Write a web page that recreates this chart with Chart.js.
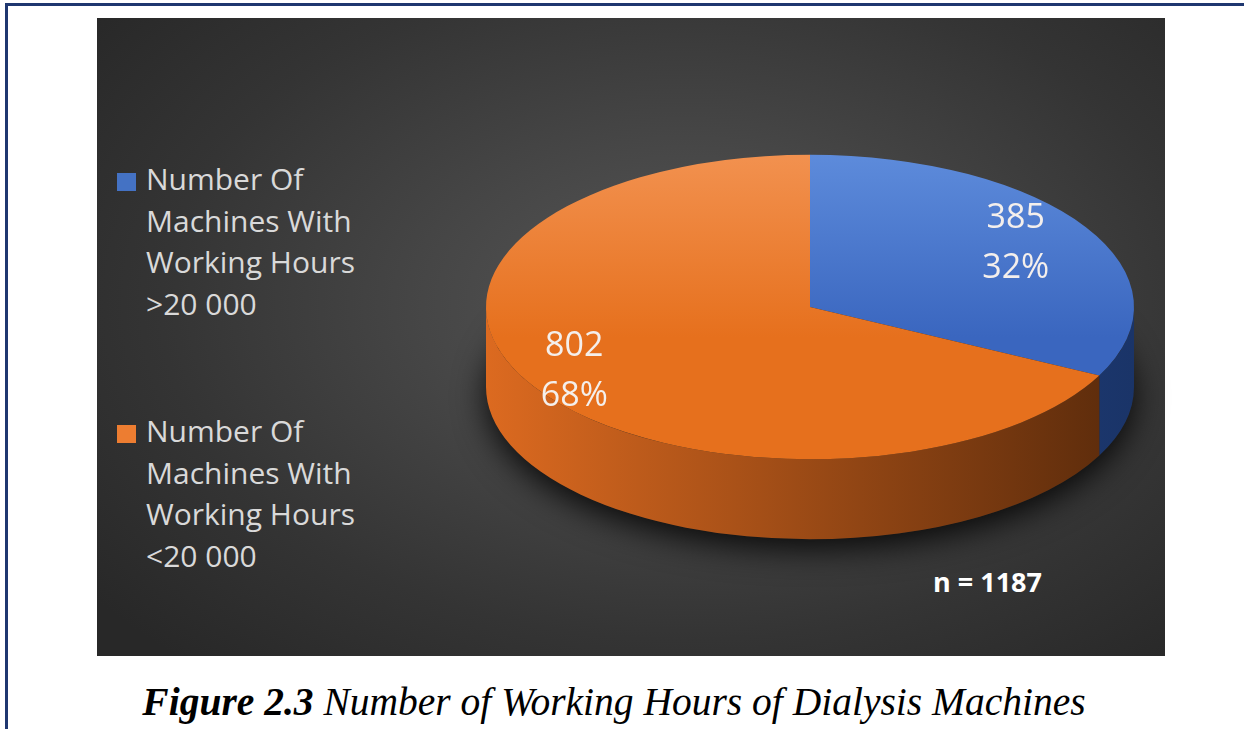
<!DOCTYPE html>
<html>
<head>
<meta charset="utf-8">
<script src="https://cdn.jsdelivr.net/npm/chart.js@4.4.0/dist/chart.umd.min.js"></script>
<style>
  body { margin: 0; background: #fff; width: 1244px; height: 729px; position: relative; overflow: hidden; font-family: 'Open Sans', sans-serif; }
  #frame { position: absolute; left: 5px; top: 3px; width: 1300px; height: 800px; border-left: 3px solid #1f3770; border-top: 3px solid #1f3770; }
  #panel { position: absolute; left: 97px; top: 18px; width: 1068px; height: 638px;
    background: radial-gradient(ellipse 70% 75% at 55% 45%, #575757 0%, #464646 35%, #343434 70%, #282828 100%); }
  #chart { position: absolute; left: 0; top: 0; }
  .leg { position: absolute; left: 146px; color: #d9d9d9; font-size: 30px; line-height: 41.5px; }
  .leg i { position: absolute; left: -29px; top: 15px; width: 19px; height: 18px; }
  #n { position: absolute; left: 933px; top: 563px; color: #fff; font-weight: bold; font-size: 27px; }
  #caption { position: absolute; left: 0; width: 1228px; top: 679px; text-align: center; font-family: 'Liberation Serif', serif; font-style: italic; font-size: 39.5px; color: #000; }
</style>
</head>
<body>
<div id="frame"></div>
<div id="panel"></div>
<div id="legend"></div>
<div id="n"></div>
<div id="caption"><b>Figure 2.3</b> Number of Working Hours of Dialysis Machines</div>
<canvas id="chart" width="1244" height="729"></canvas>
<script>
// data
var categories = [
  ['Number Of', 'Machines With', 'Working Hours', '>20 000'],
  ['Number Of', 'Machines With', 'Working Hours', '<20 000']
];
var machines = [385, 802];
var sampleSize = 1187;

// colours: top face (light, dark) and side wall (left, right)
var topColors = [['#5d8bdb', '#3a66bf'], ['#f2914f', '#e6701d']];
var sideColors = [['#2b53a3', '#1a3468'], ['#dc6a20', '#592a0b']];
var legendColors = ['#4472c4', '#ed7d31'];

// fake 3d: squash the pie and give it a wall
var squash = 0.47;
var depth = 80;
var faceY = 307;
var labelShift = -15;

var pie3d = {
  id: 'pie3d',
  beforeDatasetsDraw: function(chart) {
    var ctx = chart.ctx;
    var arcs = chart.getDatasetMeta(0).data;
    var cx = arcs[0].x, r = arcs[0].outerRadius, ry = r * squash;

    ctx.save();
    ctx.shadowColor = 'rgba(0,0,0,0.85)';
    ctx.shadowBlur = 32;
    ctx.shadowOffsetY = 10;
    ctx.fillStyle = '#222';
    ctx.beginPath();
    ctx.ellipse(cx, faceY + depth, r, ry, 0, 0, Math.PI * 2);
    ctx.fill();
    ctx.restore();

    arcs.forEach(function(arc, i) {
      var a0 = Math.max(arc.startAngle, 0);
      var a1 = Math.min(arc.endAngle, Math.PI);
      if (a1 <= a0) return;
      var g = ctx.createLinearGradient(cx - r, 0, cx + r, 0);
      g.addColorStop(0, sideColors[i][0]);
      g.addColorStop(1, sideColors[i][1]);
      ctx.beginPath();
      ctx.ellipse(cx, faceY, r, ry, 0, a0, a1);
      ctx.ellipse(cx, faceY + depth, r, ry, 0, a1, a0, true);
      ctx.closePath();
      ctx.fillStyle = g;
      ctx.fill();
    });

    ctx.save();
    ctx.translate(0, faceY);
    ctx.scale(1, squash);
    ctx.translate(0, -arcs[0].y);
  },
  afterDatasetsDraw: function(chart) {
    var ctx = chart.ctx;
    ctx.restore();
    var arcs = chart.getDatasetMeta(0).data;
    var total = machines.reduce(function(a, b) { return a + b; }, 0);
    ctx.save();
    ctx.fillStyle = '#f4efec';
    ctx.font = '34px "Open Sans"';
    ctx.textAlign = 'center';
    ctx.textBaseline = 'middle';
    arcs.forEach(function(arc, i) {
      var mid = (arc.startAngle + arc.endAngle) / 2;
      var d = arc.outerRadius * 0.8;
      var x = arc.x + Math.cos(mid) * d + labelShift;
      var y = faceY + Math.sin(mid) * d * squash;
      ctx.fillText(machines[i], x, y - 25);
      ctx.fillText(Math.round(machines[i] / total * 100) + '%', x, y + 25);
    });
    ctx.restore();
  }
};

var ctx = document.getElementById('chart').getContext('2d');
var chart = new Chart(ctx, {
  type: 'pie',
  data: {
    labels: categories,
    datasets: [{
      data: machines,
      borderWidth: 0,
      hoverOffset: 0,
      backgroundColor: function(c) {
        var area = c.chart.chartArea;
        var col = topColors[c.dataIndex];
        if (!area) return col[1];
        var g = c.chart.ctx.createLinearGradient(0, area.top, 0, area.bottom);
        g.addColorStop(0, col[0]);
        g.addColorStop(0.6, col[1]);
        return g;
      }
    }]
  },
  options: {
    responsive: false,
    animation: false,
    events: [],
    layout: { padding: { left: 486, right: 110, top: 40, bottom: 41 } },
    plugins: {
      legend: { display: false },
      tooltip: { enabled: false }
    }
  },
  plugins: [pie3d]
});

// legend on the left, built from the chart labels
var tops = [158, 410];
var legend = document.getElementById('legend');
chart.data.labels.forEach(function(lines, i) {
  var div = document.createElement('div');
  div.className = 'leg';
  div.style.top = tops[i] + 'px';
  div.innerHTML = '<i style="background:' + legendColors[i] + '"></i>' + lines.join('<br>');
  legend.appendChild(div);
});
document.getElementById('n').textContent = 'n = ' + sampleSize;
</script>
</body>
</html>
